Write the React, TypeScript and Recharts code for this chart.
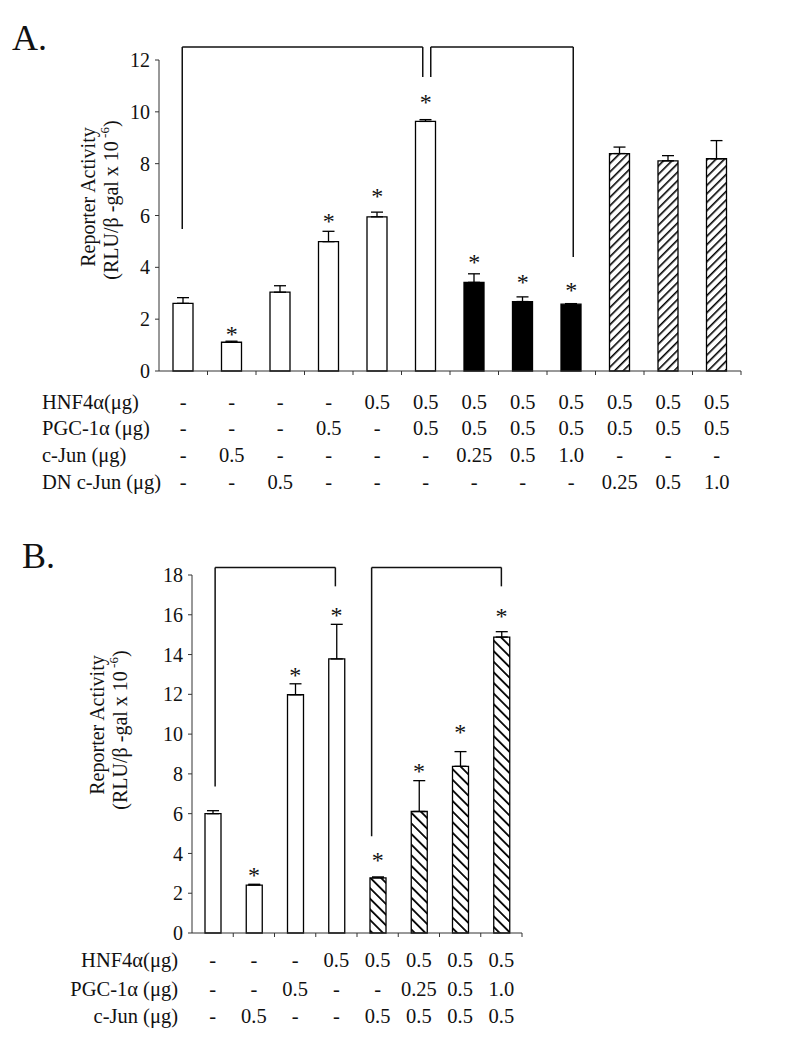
import React from 'react';
import { ComposedChart, Bar, Cell, ErrorBar, XAxis, YAxis, Scatter, ReferenceLine } from 'recharts';

const FONT = '"Liberation Serif", "Times New Roman", serif';

// ---- Panel A data ----
const catsA = ['1', '2', '3', '4', '5', '6', '7', '8', '9', '10', '11', '12'];
const valuesA = [2.61, 1.11, 3.04, 4.99, 5.95, 9.63, 3.42, 2.68, 2.58, 8.39, 8.11, 8.19];
const errorsA = [0.22, 0.04, 0.25, 0.4, 0.18, 0.07, 0.33, 0.18, 0.02, 0.25, 0.2, 0.7];
const starsA = [null, 1.58, null, 5.94, 6.91, 10.53, 4.36, 3.59, 3.28, null, null, null];
const kindsA = ['open', 'open', 'open', 'open', 'open', 'open', 'solid', 'solid', 'solid', 'hatchA', 'hatchA', 'hatchA'];
const rowLabelsA = ['HNF4\u03b1(\u03bcg)', 'PGC-1\u03b1 (\u03bcg)', 'c-Jun (\u03bcg)', 'DN c-Jun (\u03bcg)'];
const hnf4aA = ['-', '-', '-', '-', '0.5', '0.5', '0.5', '0.5', '0.5', '0.5', '0.5', '0.5'];
const pgcA = ['-', '-', '-', '0.5', '-', '0.5', '0.5', '0.5', '0.5', '0.5', '0.5', '0.5'];
const cjunA = ['-', '0.5', '-', '-', '-', '-', '0.25', '0.5', '1.0', '-', '-', '-'];
const dnCjunA = ['-', '-', '0.5', '-', '-', '-', '-', '-', '-', '0.25', '0.5', '1.0'];
const bracketsA = [
  { from: '1', to: '6', dxFrom: -1, dxTo: -3, top: 12.5, fromBottom: 5.48, toBottom: 11.34 },
  { from: '6', to: '9', dxFrom: 5, dxTo: 2, top: 12.5, fromBottom: 11.34, toBottom: 4.4 },
];

// ---- Panel B data ----
const catsB = ['1', '2', '3', '4', '5', '6', '7', '8'];
const valuesB = [6.0, 2.41, 11.98, 13.78, 2.77, 6.11, 8.38, 14.88];
const errorsB = [0.15, 0.04, 0.55, 1.74, 0.05, 1.55, 0.74, 0.27];
const starsB = [null, 3.1, 13.15, 16.17, 3.89, 8.33, 10.31, 16.14];
const kindsB = ['open', 'open', 'open', 'open', 'hatchB', 'hatchB', 'hatchB', 'hatchB'];
const rowLabelsB = ['HNF4\u03b1(\u03bcg)', 'PGC-1\u03b1 (\u03bcg)', 'c-Jun (\u03bcg)'];
const hnf4aB = ['-', '-', '-', '0.5', '0.5', '0.5', '0.5', '0.5'];
const pgcB = ['-', '-', '0.5', '-', '-', '0.25', '0.5', '1.0'];
const cjunB = ['-', '0.5', '-', '-', '0.5', '0.5', '0.5', '0.5'];
const bracketsB = [
  { from: '1', to: '4', dxFrom: 2.5, dxTo: -1, top: 18.38, fromBottom: 7.37, toBottom: 17.43 },
  { from: '5', to: '8', dxFrom: -6, dxTo: 0, top: 18.38, fromBottom: 4.86, toBottom: 17.43 },
];

const fillFor = (k: string) =>
  k === 'open' ? '#fff' : k === 'solid' ? '#000' : `url(#${k})`;

const build = (cats: string[], vals: number[], errs: number[], stars: (number | null)[], kinds: string[]) =>
  cats.map((c, i) => ({ name: c, value: vals[i], err: [0, errs[i]], star: stars[i], kind: kinds[i] }));

const dataA = build(catsA, valuesA, errorsA, starsA, kindsA);
const dataB = build(catsB, valuesB, errorsB, starsB, kindsB);

// category tick: boundary tick mark plus the treatment table column
const TableTick = (props: any) => {
  const { x, y, payload, cats, band, rows, offsets, labels, labelX, labelAnchor } = props;
  const i = cats.indexOf(String(payload.value));
  const half = payload.offset || band / 2;
  return (
    <g>
      <line x1={x + half} y1={y} x2={x + half} y2={y + 4} stroke="#333" strokeWidth={1} />
      {rows.map((r: string[], k: number) => (
        <text key={k} x={x} y={y + offsets[k]} textAnchor="middle" fontFamily={FONT} fontSize={20.5} fill="#111">
          {r[i]}
        </text>
      ))}
      {i === 0 &&
        labels.map((l: string, k: number) => (
          <text key={'l' + k} x={labelX} y={y + offsets[k]} textAnchor={labelAnchor} fontFamily={FONT} fontSize={20.5} fill="#111">
            {l}
          </text>
        ))}
    </g>
  );
};

const AxisTitle = (props: any) => {
  const { x1, x2, y1, y2 } = props;
  return (
    <g>
      <text x={x1} y={y1} transform={`rotate(-90 ${x1} ${y1})`} textAnchor="middle" dominantBaseline="central" fontFamily={FONT} fontSize={20} fill="#111">
        Reporter Activity
      </text>
      <text x={x2} y={y2} transform={`rotate(-90 ${x2} ${y2})`} textAnchor="middle" dominantBaseline="central" fontFamily={FONT} fontSize={20} fill="#111">
        (RLU/β -gal x 10
        <tspan dy={-7} fontSize={13}> -6</tspan>
        <tspan dy={7}>)</tspan>
      </text>
    </g>
  );
};

const StarShape = (p: any) => {
  if (p.payload == null || p.payload.star == null) return <g />;
  return (
    <text x={p.cx} y={p.cy + 12} textAnchor="middle" fontFamily={FONT} fontSize={24} fill="#111">
      *
    </text>
  );
};

const segShape = (dx1: number, dx2: number) => (p: any) => (
  <line x1={p.x1 + dx1} y1={p.y1} x2={p.x2 + dx2} y2={p.y2} stroke="#111" strokeWidth={1.5} />
);

const renderBrackets = (brackets: typeof bracketsA, prefix: string) =>
  brackets.flatMap((b, i) => [
    <ReferenceLine
      key={`${prefix}${i}l`}
      segment={[{ x: b.from, y: b.fromBottom }, { x: b.from, y: b.top }]}
      ifOverflow="visible"
      shape={segShape(b.dxFrom, b.dxFrom)}
    />,
    <ReferenceLine
      key={`${prefix}${i}t`}
      segment={[{ x: b.from, y: b.top }, { x: b.to, y: b.top }]}
      ifOverflow="visible"
      shape={segShape(b.dxFrom, b.dxTo)}
    />,
    <ReferenceLine
      key={`${prefix}${i}r`}
      segment={[{ x: b.to, y: b.top }, { x: b.to, y: b.toBottom }]}
      ifOverflow="visible"
      shape={segShape(b.dxTo, b.dxTo)}
    />,
  ]);

const Patterns = () => (
  <defs>
    <pattern id="hatchA" patternUnits="userSpaceOnUse" width={6} height={6} patternTransform="rotate(45)">
      <rect width={6} height={6} fill="#fff" />
      <line x1={0} y1={0} x2={0} y2={6} stroke="#000" strokeWidth={3.2} />
    </pattern>
    <pattern id="hatchB" patternUnits="userSpaceOnUse" width={7.5} height={7.5} patternTransform="rotate(-45)">
      <rect width={7.5} height={7.5} fill="#fff" />
      <line x1={0} y1={0} x2={0} y2={7.5} stroke="#000" strokeWidth={3.6} />
    </pattern>
  </defs>
);

const letterStyle: React.CSSProperties = {
  position: 'absolute',
  fontFamily: FONT,
  fontSize: 36,
  lineHeight: '36px',
  color: '#111',
};

const yTick = { fontFamily: FONT, fontSize: 20, fill: '#111' };

export default function App() {
  return (
    <div style={{ position: 'absolute', left: 0, top: 0, width: 787, height: 1062, background: '#fff' }}>
      <div style={{ ...letterStyle, left: 12, top: 20 }}>A.</div>
      <div style={{ ...letterStyle, left: 22, top: 538 }}>B.</div>

      <div style={{ position: 'absolute', left: 0, top: 0 }}>
        <ComposedChart width={787} height={510} data={dataA} margin={{ top: 60, right: 46, left: 0, bottom: 0 }}>
          <Patterns />
          <YAxis
            width={159}
            domain={[0, 12]}
            ticks={[0, 2, 4, 6, 8, 10, 12]}
            tickSize={4}
            tickMargin={5}
            stroke="#333"
            tick={yTick}
            label={<AxisTitle x1={88} x2={111} y1={197} y2={200} />}
          />
          <XAxis
            dataKey="name"
            stroke="#333"
            tickLine={false}
            tickSize={0}
            tickMargin={0}
            height={139}
            interval={0}
            tick={
              <TableTick
                cats={catsA}
                band={48.5}
                rows={[hnf4aA, pgcA, cjunA, dnCjunA]}
                offsets={[38, 64, 91, 118]}
                labels={rowLabelsA}
                labelX={42}
                labelAnchor="start"
              />
            }
          />
          <Bar dataKey="value" barSize={20} stroke="#000" strokeWidth={1.3} isAnimationActive={false}>
            {dataA.map((d) => (
              <Cell key={`a-${d.name}`} fill={fillFor(d.kind)} />
            ))}
            <ErrorBar dataKey="err" width={6} stroke="#000" strokeWidth={1.3} direction="y" />
          </Bar>
          <Scatter dataKey="star" shape={StarShape} isAnimationActive={false} />
          {renderBrackets(bracketsA, 'a')}
        </ComposedChart>
      </div>

      <div style={{ position: 'absolute', left: 0, top: 530 }}>
        <ComposedChart width={787} height={532} data={dataB} margin={{ top: 45, right: 265, left: 0, bottom: 0 }}>
          <Patterns />
          <YAxis
            width={192}
            domain={[0, 18]}
            ticks={[0, 2, 4, 6, 8, 10, 12, 14, 16, 18]}
            tickSize={4}
            tickMargin={5}
            stroke="#333"
            tick={yTick}
            label={<AxisTitle x1={97} x2={120} y1={195} y2={200} />}
          />
          <XAxis
            dataKey="name"
            stroke="#333"
            tickLine={false}
            tickSize={0}
            tickMargin={0}
            height={129}
            interval={0}
            tick={
              <TableTick
                cats={catsB}
                band={41.25}
                rows={[hnf4aB, pgcB, cjunB]}
                offsets={[34, 63, 90]}
                labels={rowLabelsB}
                labelX={178}
                labelAnchor="end"
              />
            }
          />
          <Bar dataKey="value" barSize={16} stroke="#000" strokeWidth={1.3} isAnimationActive={false}>
            {dataB.map((d) => (
              <Cell key={`b-${d.name}`} fill={fillFor(d.kind)} />
            ))}
            <ErrorBar dataKey="err" width={6} stroke="#000" strokeWidth={1.3} direction="y" />
          </Bar>
          <Scatter dataKey="star" shape={StarShape} isAnimationActive={false} />
          {renderBrackets(bracketsB, 'b')}
        </ComposedChart>
      </div>
    </div>
  );
}
